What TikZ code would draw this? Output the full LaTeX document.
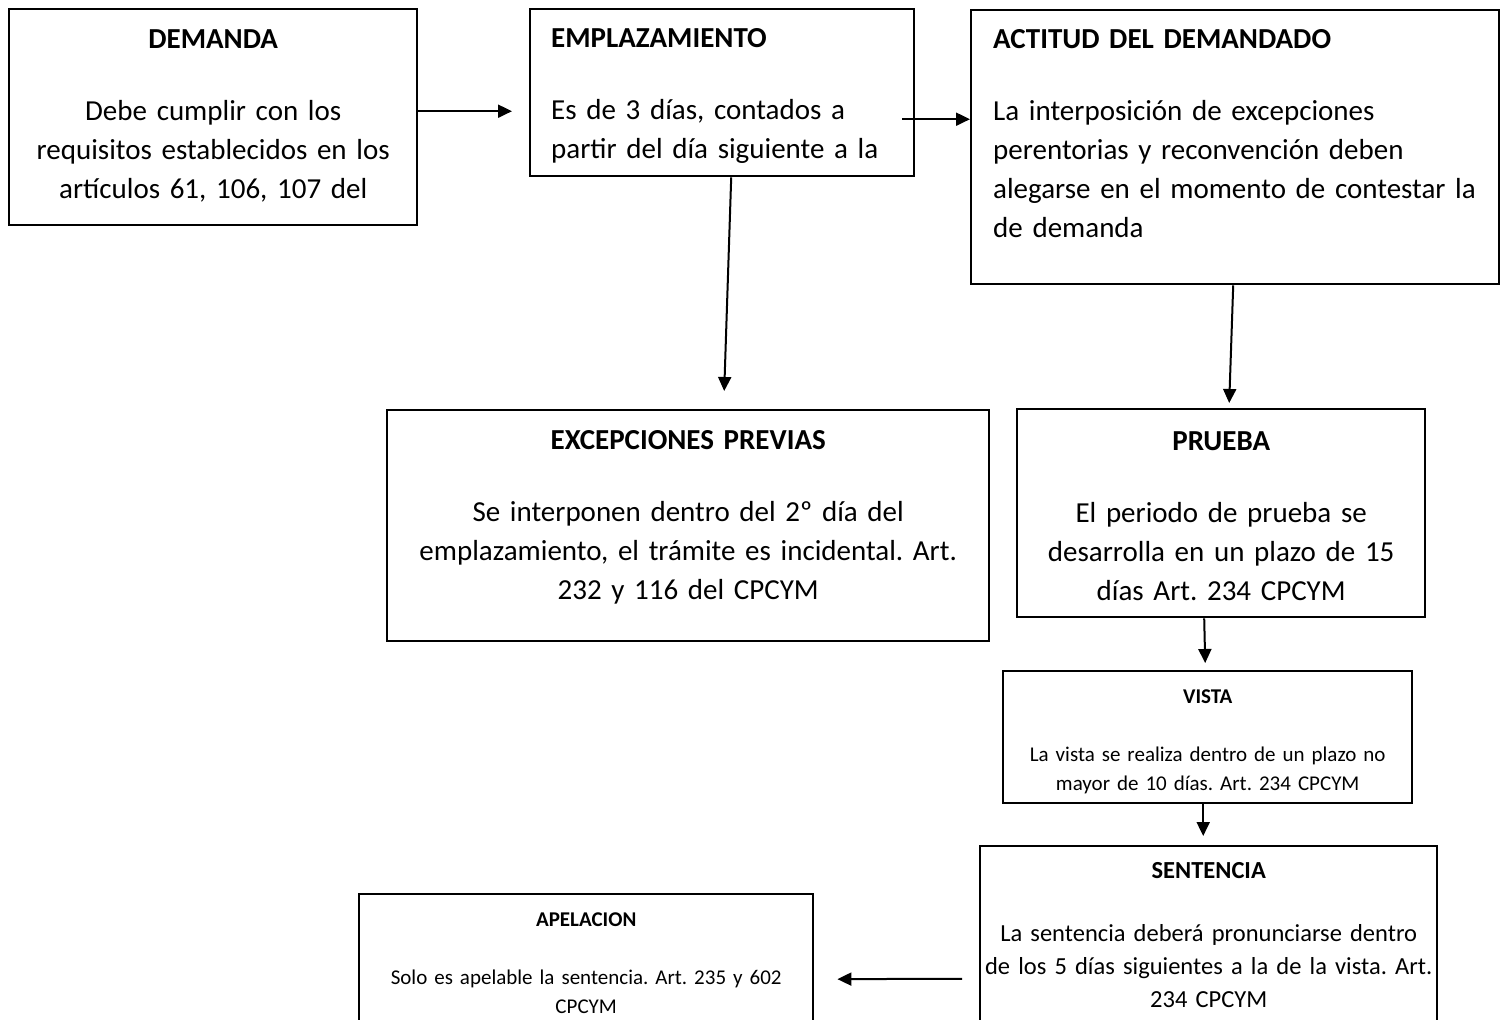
\documentclass[tikz,border=0pt]{standalone}
\usepackage{fontspec}
\setmainfont{Carlito}
\usetikzlibrary{arrows.meta}
\frenchspacing

\begin{document}
\begin{tikzpicture}[x=0.5pt,y=-0.5pt,
    caja/.style={draw,line width=1.2pt,anchor=north west,inner xsep=0pt,inner ysep=0pt},
    grande/.style={font=\fontsize{14.5pt}{19.5pt}\selectfont},
    media/.style={font=\fontsize{12.25pt}{16.5pt}\selectfont},
    chica/.style={font=\fontsize{10.5pt}{14.5pt}\selectfont},
    flecha/.style={line width=1pt,-{Triangle[length=7pt,width=6.5pt]}}]
  \useasboundingbox (0,0) rectangle (1504,1019);
  \clip (0,0) rectangle (1504,1019);
  \fill[white] (0,0) rectangle (1504,1019);

  \node[caja,grande,align=center,text width=204pt,text height=19.65pt,text depth=88.35pt] (dem) at (8,8)
    {\textbf{DEMANDA}\\[16.5pt]Debe cumplir con los\\requisitos establecidos en los\\artículos 61, 106, 107 del};
  \node[caja,grande,align=left,inner xsep=10.5pt,text width=171pt,text height=19.15pt,text depth=64.35pt] (emp) at (529,8)
    {\textbf{EMPLAZAMIENTO}\\[16.5pt]Es de 3 días, contados a\\partir del día siguiente a la};
  \node[caja,grande,align=left,inner xsep=11pt,text width=242pt,text height=19pt,text depth=118pt] (act) at (970,9)
    {\textbf{ACTITUD DEL DEMANDADO}\\[16.5pt]La interposición de excepciones\\perentorias y reconvención deben\\alegarse en el momento de contestar la\\de demanda};
  \node[caja,grande,align=center,text width=301pt,text height=19.65pt,text depth=95.85pt] (exc) at (386,409)
    {\textbf{EXCEPCIONES PREVIAS}\\[16.5pt]Se interponen dentro del 2º día del\\emplazamiento, el trámite es incidental. Art.\\232 y 116 del CPCYM};
  \node[caja,grande,align=center,text width=204pt,text height=20.65pt,text depth=83.35pt] (pru) at (1016,408)
    {\textbf{PRUEBA}\\[16.5pt]El periodo de prueba se\\desarrolla en un plazo de 15\\días Art. 234 CPCYM};
  \node[caja,chica,align=center,text width=204.5pt,text height=15.9pt,text depth=50.1pt] (vis) at (1002,670)
    {\textbf{VISTA}\\[14.5pt]La vista se realiza dentro de un plazo no\\mayor de 10 días. Art. 234 CPCYM};
  \node[caja,media,align=center,text width=228.5pt,text height=16pt,text depth=116.5pt] (sen) at (979,845)
    {\textbf{SENTENCIA}\\[15pt]La sentencia deberá pronunciarse dentro\\de los 5 días siguientes a la de la vista. Art.\\234 CPCYM};
  \node[caja,chica,align=center,text width=227pt,text height=16pt,text depth=69pt] (ape) at (358,893)
    {\textbf{APELACION}\\[14.5pt]Solo es apelable la sentencia. Art. 235 y 602\\CPCYM};

  \draw[flecha,shorten >=8.5pt] ([yshift=3pt]dem.east) -- ([yshift=3pt]dem.east -| emp.west);
  \draw[flecha,shorten <=-6.5pt] ([yshift=-13.25pt]emp.east) -- ([yshift=-13.25pt]emp.east -| act.west);
  \draw[flecha] ([xshift=4.5pt]emp.south) -- ([xshift=18pt,yshift=9pt]exc.north);
  \draw[flecha] ([xshift=-1pt]act.south) -- ([xshift=4pt,yshift=2.5pt]pru.north);
  \draw[flecha] ([xshift=-8.5pt]pru.south) -- ([xshift=-1.25pt,yshift=3.5pt]vis.north);
  \draw[flecha] ([xshift=-2.25pt]vis.south) -- ([xshift=-2.75pt,yshift=4.5pt]sen.north);
  \draw[flecha,shorten <=8.5pt,shorten >=11.5pt] (sen.west) -- (ape.east);
\end{tikzpicture}
\end{document}
